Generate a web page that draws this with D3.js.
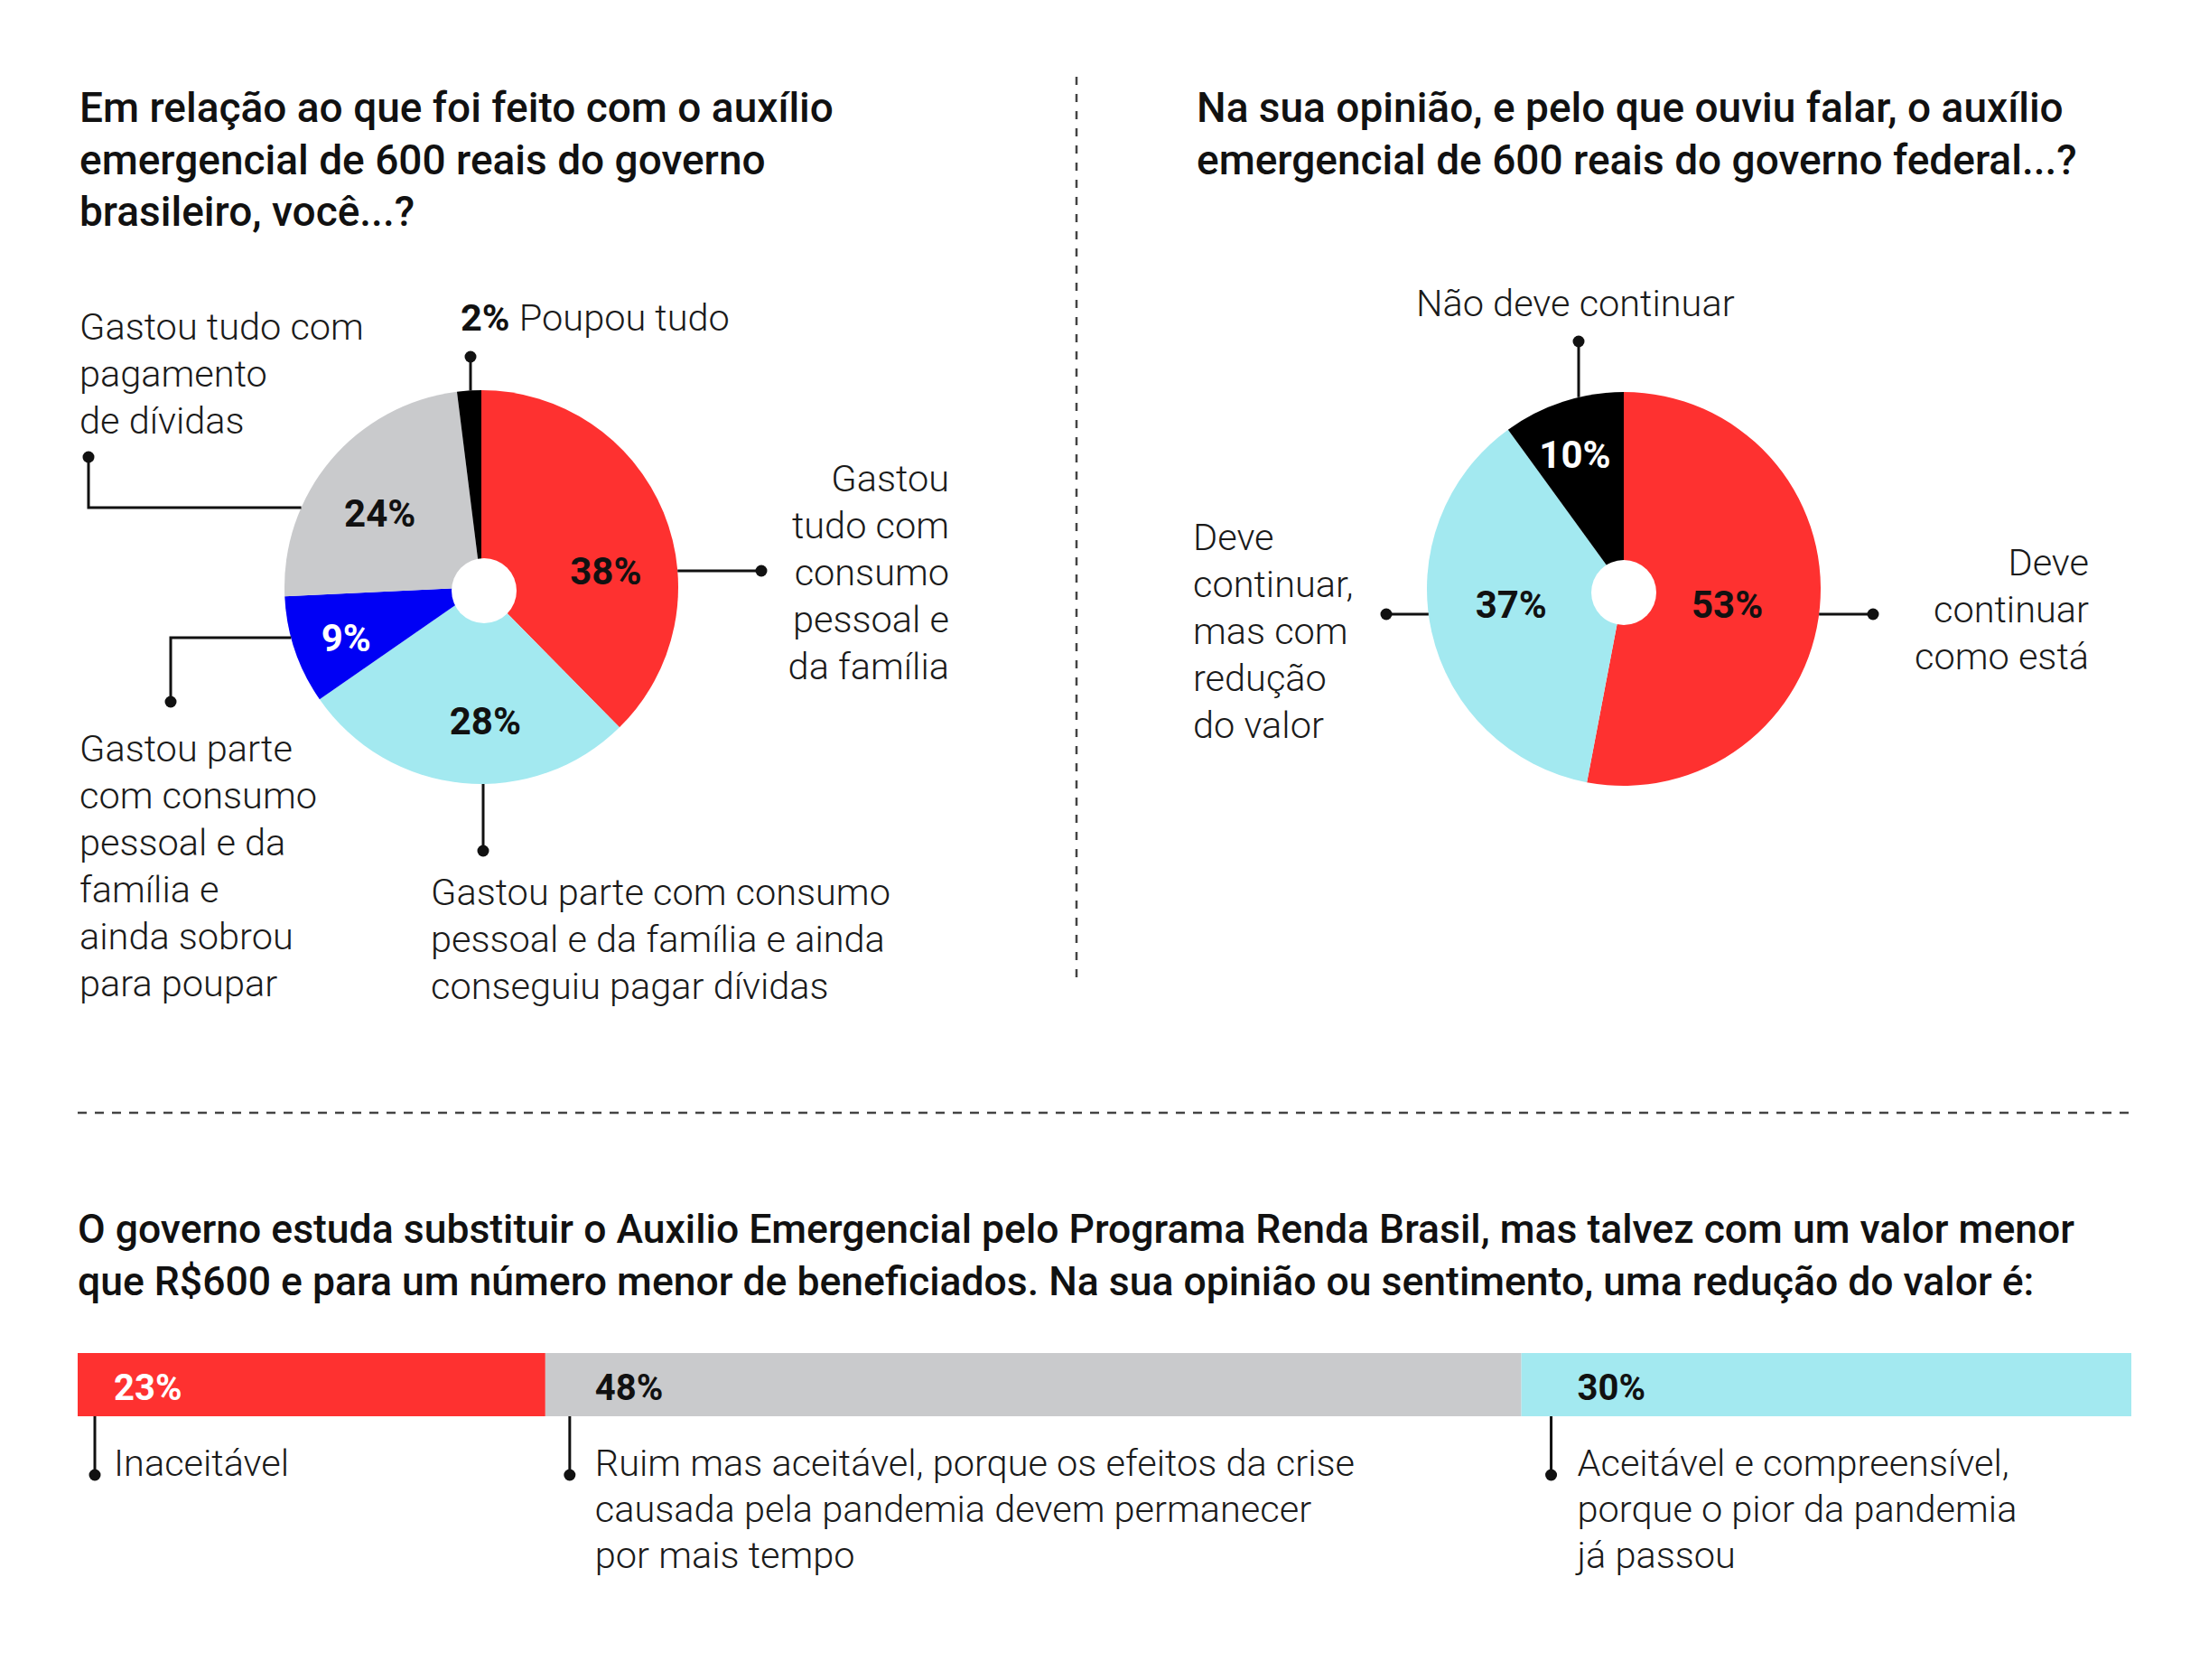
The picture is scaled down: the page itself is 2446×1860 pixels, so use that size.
<!DOCTYPE html>
<html>
<head>
<meta charset="utf-8">
<script src="https://cdn.jsdelivr.net/npm/d3@7"></script>
<style>
body { margin: 0; background: #fff; }
text { font-family: Roboto, "Open Sans", sans-serif; }
.title { font-size: 46px; font-weight: 500; fill: #111; }
.lab { font-size: 41.5px; font-weight: 300; fill: #1a1a1a; }
.pct { font-size: 42px; font-weight: 700; }
</style>
</head>
<body>
<div id="chart"></div>
<script>
var W = 2446, H = 1860;

// --- data ---
var spendCats = ["Gastou tudo com consumo pessoal e da família",
  "Gastou parte com consumo pessoal e da família e ainda conseguiu pagar dívidas",
  "Gastou parte com consumo pessoal e da família e ainda sobrou para poupar",
  "Gastou tudo com pagamento de dívidas",
  "Poupou tudo"];
var spendValues = [38, 28, 9, 24, 2];
var spendLines = [
  ["Gastou", "tudo com", "consumo", "pessoal e", "da família"],
  ["Gastou parte com consumo", "pessoal e da família e ainda", "conseguiu pagar dívidas"],
  ["Gastou parte", "com consumo", "pessoal e da", "família e", "ainda sobrou", "para poupar"],
  ["Gastou tudo com", "pagamento", "de dívidas"],
  ["Poupou tudo"]];

var opinionCats = ["Deve continuar como está", "Deve continuar, mas com redução do valor", "Não deve continuar"];
var opinionValues = [53, 37, 10];
var opinionLines = [
  ["Deve", "continuar", "como está"],
  ["Deve", "continuar,", "mas com", "redução", "do valor"],
  ["Não deve continuar"]];

var reductionCats = ["Inaceitável", "Ruim mas aceitável", "Aceitável e compreensível"];
var reductionValues = [23, 48, 30];
var reductionLines = [
  ["Inaceitável"],
  ["Ruim mas aceitável, porque os efeitos da crise", "causada pela pandemia devem permanecer", "por mais tempo"],
  ["Aceitável e compreensível,", "porque o pior da pandemia", "já passou"]];

var titles = {
  spend: ["Em relação ao que foi feito com o auxílio", "emergencial de 600 reais do governo", "brasileiro, você...?"],
  opinion: ["Na sua opinião, e pelo que ouviu falar, o auxílio", "emergencial de 600 reais do governo federal...?"],
  reduction: ["O governo estuda substituir o Auxilio Emergencial pelo Programa Renda Brasil, mas talvez com um valor menor",
    "que R$600 e para um número menor de beneficiados. Na sua opinião ou sentimento, uma redução do valor é:"]
};

// --- colours ---
var RED = "#fe3130", CYAN = "#a3e9f0", BLUE = "#0000f5", GREY = "#c9cacc", BLACK = "#000";
var spendColors = [RED, CYAN, BLUE, GREY, BLACK];
var spendText = ["#111", "#111", "#fff", "#111", "#111"];
var opinionColors = [RED, CYAN, BLACK];
var opinionText = ["#111", "#111", "#fff"];
var reductionColors = [RED, GREY, CYAN];
var reductionText = ["#fff", "#111", "#111"];

var svg = d3.select("#chart").append("svg").attr("width", W).attr("height", H);

function multiline(g, lines, x, y0, lh, anchor) {
  var t = g.append("text").attr("class", "lab").attr("text-anchor", anchor || "start");
  lines.forEach(function(l, i) {
    t.append("tspan").attr("x", x).attr("y", y0 + i * lh).text(l);
  });
  return t;
}

function title(lines, x, y0, size) {
  var t = svg.append("text").attr("class", "title").style("font-size", size + "px");
  lines.forEach(function(l, i) { t.append("tspan").attr("x", x).attr("y", y0 + i * 57.5).text(l); });
}

function dot(g, x, y) { g.append("circle").attr("cx", x).attr("cy", y).attr("r", 6.5).attr("fill", "#111"); }

// layout for each pie: callout geometry relative to the centre
function drawPie(cx, cy, values, colors, textColors, lines, L) {
  var r = 218;
  var g = svg.append("g").attr("transform", "translate(" + cx + "," + cy + ")");
  var arcs = d3.pie().sort(null).value(function(d) { return d; })(values);
  var arc = d3.arc().innerRadius(0).outerRadius(r);
  g.selectAll("path.slice").data(arcs).join("path").attr("class", "slice")
    .attr("d", arc).attr("fill", function(d, i) { return colors[i]; });
  g.append("circle").attr("cx", L.hole[0]).attr("cy", L.hole[1]).attr("r", 36).attr("fill", "#fff");

  // percentage labels
  g.selectAll("text.pl").data(arcs).join("text").attr("class", "pct pl")
    .attr("text-anchor", "middle").attr("dominant-baseline", "central")
    .attr("fill", function(d, i) { return textColors[i]; })
    .attr("x", function(d, i) { var a = (d.startAngle + d.endAngle) / 2 + L.nudge[i] * Math.PI / 180; return Math.sin(a) * L.labelR[i]; })
    .attr("y", function(d, i) { var a = (d.startAngle + d.endAngle) / 2 + L.nudge[i] * Math.PI / 180; return -Math.cos(a) * L.labelR[i]; })
    .text(function(d) { return d.data + "%"; })
    .filter(function(d, i) { return L.hidePct && L.hidePct[i]; }).remove();

  // callouts
  L.callouts.forEach(function(c, i) {
    var start;
    if (c.h !== undefined) start = [c.side * Math.sqrt(r * r - c.h * c.h), c.h];
    else start = [c.v, c.side * Math.sqrt(r * r - c.v * c.v)];
    var pts = [start].concat(c.pts);
    g.append("path").attr("d", d3.line()(pts)).attr("fill", "none").attr("stroke", "#111").attr("stroke-width", 3);
    var end = pts[pts.length - 1];
    dot(g, end[0], end[1]);
    if (c.pctPrefix) {
      var t = g.append("text").attr("class", "lab").attr("x", c.tx).attr("y", c.ty);
      t.append("tspan").style("font-weight", 700).attr("fill", "#111").text(values[i] + "% ");
      t.append("tspan").text(lines[i][0]);
    } else {
      multiline(g, lines[i], c.tx, c.ty, 52, c.anchor);
    }
  });
}

// titles
title(titles.spend, 88, 135, 46);
title(titles.opinion, 1325, 135, 46);
title(titles.reduction, 86, 1376, 44.5);

// pie 1
drawPie(533, 650, spendValues, spendColors, spendText, spendLines, {
  hole: [3, 4],
  labelR: [139, 149, 160, 139, 0],
  nudge: [15, -7, -2, -4, 0],
  hidePct: [false, false, false, false, true],
  callouts: [
    { h: -18, side: 1, pts: [[310, -18]], tx: 518, ty: -106, anchor: "end" },
    { v: 2, side: 1, pts: [[2, 292]], tx: -56, ty: 352 },
    { h: 56, side: -1, pts: [[-344, 56], [-344, 127]], tx: -445, ty: 193 },
    { h: -88, side: -1, pts: [[-435, -88], [-435, -144]], tx: -445, ty: -274 },
    { v: -12, side: -1, pts: [[-12, -255]], tx: -23, ty: -284, pctPrefix: true }
  ]
});

// pie 2
drawPie(1798, 652, opinionValues, opinionColors, opinionText, opinionLines, {
  hole: [0, 4],
  labelR: [116, 126, 158],
  nudge: [3.5, 4.5, -2],
  callouts: [
    { h: 28, side: 1, pts: [[276, 28]], tx: 515, ty: -15, anchor: "end" },
    { h: 28, side: -1, pts: [[-263, 28]], tx: -477, ty: -43 },
    { v: -50, side: -1, pts: [[-50, -274]], tx: -230, ty: -302 }
  ]
});

// dividers
svg.append("line").attr("x1", 1192).attr("x2", 1192).attr("y1", 85).attr("y2", 1092)
  .attr("stroke", "#444").attr("stroke-width", 2.5).attr("stroke-dasharray", "9 10");
svg.append("line").attr("x1", 86).attr("x2", 2362).attr("y1", 1232).attr("y2", 1232)
  .attr("stroke", "#444").attr("stroke-width", 2.5).attr("stroke-dasharray", "10 9");

// stacked bar
var total = d3.sum(reductionValues);
var x = d3.scaleLinear().domain([0, total]).range([86, 2360]);
var starts = [0].concat(Array.from(d3.cumsum(reductionValues)).slice(0, -1));
var barY = 1498, barH = 70;
var lineOff = [19, 27, 33], textOff = [40, 55, 62];
var bg = svg.append("g");
bg.selectAll("rect").data(reductionValues).join("rect")
  .attr("x", function(d, i) { return x(starts[i]); })
  .attr("width", function(d, i) { return x(starts[i] + d) - x(starts[i]); })
  .attr("y", barY).attr("height", barH)
  .attr("fill", function(d, i) { return reductionColors[i]; });
bg.selectAll("text.bl").data(reductionValues).join("text").attr("class", "pct bl")
  .style("font-size", "40px")
  .attr("x", function(d, i) { return x(starts[i]) + textOff[i]; })
  .attr("y", 1550)
  .attr("fill", function(d, i) { return reductionText[i]; })
  .text(function(d) { return d + "%"; });
reductionValues.forEach(function(d, i) {
  var lx = x(starts[i]) + lineOff[i];
  bg.append("line").attr("x1", lx).attr("x2", lx).attr("y1", barY + barH).attr("y2", 1633)
    .attr("stroke", "#111").attr("stroke-width", 3);
  dot(bg, lx, 1633);
  multiline(bg, reductionLines[i], x(starts[i]) + textOff[i], 1634, 51);
});
</script>
</body>
</html>
